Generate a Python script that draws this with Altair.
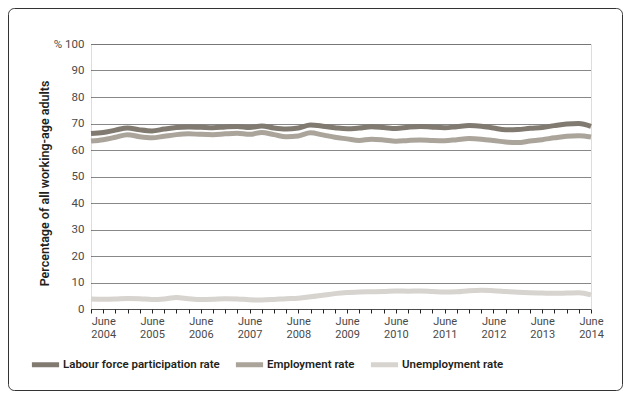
import altair as alt
import pandas as pd

# Quarterly periods, March 2004 to June 2014, as decimal years (June = .5)
periods = [2004.25 + 0.25 * i for i in range(42)]

lfpr = [66.2, 66.6, 67.5, 68.3, 67.6, 67.2, 67.9, 68.5, 68.7, 68.6,
        68.4, 68.7, 68.9, 68.5, 69.1, 68.3, 67.9, 68.3, 69.4, 69.0,
        68.4, 68.0, 68.3, 68.8, 68.5, 68.1, 68.6, 68.9, 68.6, 68.4,
        68.8, 69.2, 69.0, 68.3, 67.6, 67.7, 68.2, 68.5, 69.2, 69.8,
        70.0, 68.9]
employment = [63.4, 63.9, 64.8, 65.8, 65.0, 64.6, 65.2, 65.8, 66.1, 65.9,
              65.8, 66.1, 66.3, 65.9, 66.6, 65.8, 65.0, 65.3, 66.5, 65.7,
              64.8, 64.2, 63.6, 64.1, 63.8, 63.3, 63.6, 63.8, 63.6, 63.5,
              63.9, 64.3, 64.1, 63.6, 63.0, 62.8, 63.4, 63.9, 64.6, 65.2,
              65.4, 64.9]
unemployment = [3.8, 3.7, 3.8, 4.0, 3.9, 3.6, 3.8, 4.3, 3.9, 3.6,
                3.7, 3.9, 3.8, 3.5, 3.4, 3.6, 3.9, 4.1, 4.6, 5.2,
                5.8, 6.2, 6.4, 6.5, 6.6, 6.8, 6.7, 6.8, 6.6, 6.4,
                6.5, 6.9, 7.1, 6.9, 6.6, 6.3, 6.1, 6.0, 5.9, 6.0,
                6.1, 5.3]

series_names = ["Labour force participation rate", "Employment rate", "Unemployment rate"]
series_colors = ["#807a70", "#aaa49b", "#d7d3cf"]

x_ticks = [2004.25 + 0.25 * k for k in range(42)]
y_ticks = list(range(0, 101, 10))

rows = []
for name, vals in zip(series_names, [lfpr, employment, unemployment]):
    for p, v in zip(periods, vals):
        rows.append({"period": p, "series": name, "value": v})
df = pd.DataFrame(rows)

FONT = "Roboto, Lato, sans-serif"

lines = alt.Chart(df).mark_line(strokeWidth=5, interpolate="monotone").encode(
    x=alt.X("period:Q",
            scale=alt.Scale(domain=[2004.25, 2014.5], nice=False, zero=False),
            axis=alt.Axis(values=x_ticks,
                          labelExpr="(datum.value % 1 == 0.5) ? ['June', '' + floor(datum.value)] : ''",
                          title=None, grid=False, tickSize=4, tickColor="#222",
                          domainColor="#222", domainDash=[1, 1],
                          labelColor="#4a4a4a", labelFontSize=11, labelFont=FONT,
                          labelPadding=2, labelOverlap=False, labelFlush=False,
                          labelLineHeight=13)),
    y=alt.Y("value:Q",
            scale=alt.Scale(domain=[0, 100], nice=False),
            axis=alt.Axis(values=y_ticks,
                          labelExpr="datum.value == 100 ? '%  100' : datum.label",
                          title="Percentage of all working-age adults",
                          titleFont=FONT, titleFontSize=12.5, titleFontWeight=600,
                          titleColor="#231f20", titleX=-47, titleY=139,
                          titleAlign="center", titleBaseline="middle", titleAngle=-90,
                          grid=True, gridDash=[1, 1], gridColor="#111",
                          domain=False, ticks=False, labelPadding=7,
                          labelColor="#4a4a4a", labelFontSize=11.5, labelFont=FONT)),
    color=alt.Color("series:N",
                    scale=alt.Scale(domain=series_names, range=series_colors),
                    legend=alt.Legend(title=None, orient="none", legendX=-62, legendY=304,
                                      direction="horizontal", columns=3,
                                      symbolType="stroke", symbolStrokeWidth=5,
                                      symbolSize=740, labelOffset=1, columnPadding=5,
                                      labelFont=FONT, labelFontSize=11.5,
                                      labelFontWeight=600, labelColor="#231f20",
                                      labelLimit=300)),
)

border = alt.Chart(alt.Data(values=[{}])).mark_rect(
    fillOpacity=0, stroke="#333", strokeWidth=1, cornerRadius=6
).encode(x=alt.value(-82.5), x2=alt.value(531.5), y=alt.value(-35.5), y2=alt.value(346.5))

chart = alt.layer(border, lines).properties(
    width=500, height=265,
    padding={"left": 83, "top": 36, "right": 32, "bottom": 82},
    autosize=alt.AutoSizeParams(type="none"),
).configure_view(strokeWidth=0).configure(background="white")

chart.save("out.html", embed_options={"renderer": "svg", "actions": False})
